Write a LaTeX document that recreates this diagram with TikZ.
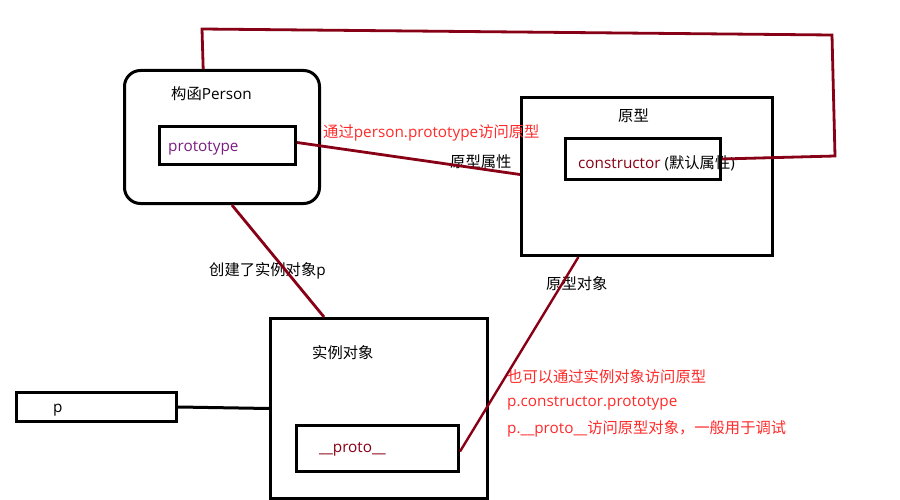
\documentclass[tikz,border=0pt]{standalone}
\usepackage{fontspec}
\setmainfont{Open Sans}
\newfontfamily\cjk{Noto Sans CJK SC}
\usetikzlibrary{calc}
\definecolor{linered}{HTML}{880015}
\definecolor{protopurple}{HTML}{7A1E80}
\definecolor{notered}{HTML}{FF2A2A}
\newcommand{\zh}[1]{{\cjk #1}}
\begin{document}
\begin{tikzpicture}[x=1pt,y=-1pt,
  box/.style={draw, line width=3pt, inner sep=0pt, anchor=north west},
  txt/.style={inner sep=0pt, anchor=west, font=\fontsize{15.3}{18}\selectfont},
  redtxt/.style={txt, text=notered},
  link/.style={draw=linered, line width=2.8pt}]
\useasboundingbox (0,0) rectangle (900,500);
% boxes
\node[box, rounded corners=16pt, minimum width=195pt, minimum height=133pt] (person) at (123,69) {};
\node[box, minimum width=136pt, minimum height=38pt] (protoprop) at (158,125) {};
\node[box, minimum width=251pt, minimum height=158pt] (proto) at (520,96) {};
\node[box, minimum width=155pt, minimum height=41pt] (ctor) at (564,137) {};
\node[box, minimum width=217pt, minimum height=180pt] (inst) at (269,317) {};
\node[box, minimum width=162pt, minimum height=46pt] (dunder) at (295,424) {};
\node[box, minimum width=160pt, minimum height=29pt] (pvar) at (15,391) {};
% texts
\node[txt] (tperson) at (171,94) {\zh{构函}Person};
\node[txt, text=protopurple] (tprototype) at (168,148) {prototype};
\node[redtxt] (tvia) at (323,133) {\zh{通过}person.prototype\zh{访问原型}};
\node[txt] (tattr) at (450,162) {\zh{原型属性}};
\node[txt] (tproto) at (618,116) {\zh{原型}};
\node[txt] (tctor) at (578,163) {\textcolor{linered}{constructor} (\zh{默认属性})};
\node[txt] (tcreate) at (209,271) {\zh{创建了实例对象}p};
\node[txt] (tinst) at (312,353) {\zh{实例对象}};
\node[txt, text=linered] (tdunder) at (319,449) {\_\_proto\_\_};
\node[txt] (tp) at (53,410) {p};
\node[txt] (tprotoobj) at (546,284) {\zh{原型对象}};
\node[redtxt] (tn1) at (507,377) {\zh{也可以通过实例对象访问原型}};
\node[redtxt] (tn2) at (507,403) {p.constructor.prototype};
\node[redtxt] (tn3) at (507,429) {p.\_\_proto\_\_\zh{访问原型对象，一般用于调试}};
% connectors
\draw[link] ($(protoprop.east)+(0,-3)$) -- ($(proto.west)+(0,-2)$);
\draw[link] ($(person.south west)!0.55!(person.south east)$) -- ($(inst.north west)!0.25!(inst.north east)$);
\draw[link, line width=2.4pt] ($(dunder.east)+(0,3)$) -- ($(proto.south west)!0.23!(proto.south east)$);
\coordinate (l1) at (835,156);
\coordinate (l2) at (832,35);
\coordinate (l3) at (202,29);
\draw[link] (ctor.east) -- (l1) -- (l2) -- (l3) -- ($(person.north west)!0.405!(person.north east)$);
\draw[line width=3pt] (pvar.east) -- (inst.west);
\end{tikzpicture}
\end{document}
